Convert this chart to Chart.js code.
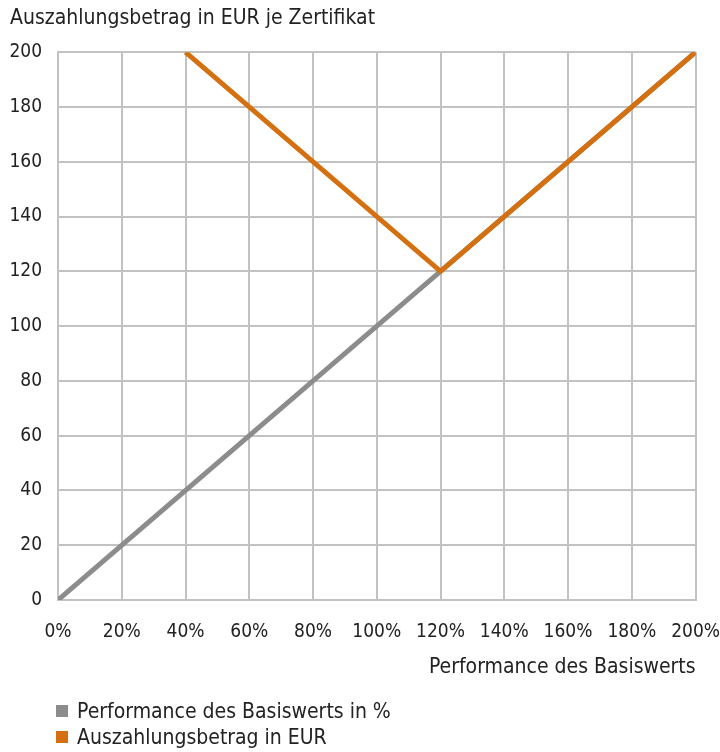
<!DOCTYPE html>
<html>
<head>
<meta charset="utf-8">
<script src="https://cdn.jsdelivr.net/npm/chart.js@4"></script>
<style>
  html,body{margin:0;padding:0;background:#fff;}
  #wrap{position:relative;width:720px;height:752px;}
  #legend{position:absolute;left:56px;top:698px;font-family:"Liberation Sans Narrow","DejaVu Sans Condensed",sans-serif;font-size:21px;color:#222;line-height:26px;}
  #legend .sw{display:inline-block;width:12px;height:12px;margin-right:9px;vertical-align:1px;}
</style>
</head>
<body>
<div id="wrap">
  <canvas id="c" width="720" height="752"></canvas>
  <div id="legend"></div>
</div>
<script>
const FONT = '"Liberation Sans Narrow","DejaVu Sans Condensed",sans-serif';
const TEXT = '#222';

// Performance des Basiswerts (x in %) vs payout (EUR)
const perfX = [0, 200];
const perfY = [0, 200];
const payX = [40, 120, 200];
const payY = [200, 120, 200];

const seriesNames = ['Performance des Basiswerts in %', 'Auszahlungsbetrag in EUR'];
const seriesColors = ['#8c8c8c', '#d4700f'];

const chartTitle = 'Auszahlungsbetrag in EUR je Zertifikat';
const xTitle = 'Performance des Basiswerts';

const toPts = (xs, ys) => xs.map((x, i) => ({x, y: ys[i]}));

const ctx = document.getElementById('c').getContext('2d');
new Chart(ctx, {
  type: 'scatter',
  data: {
    datasets: [
      {label: seriesNames[1], data: toPts(payX, payY), showLine: true, borderColor: seriesColors[1], borderWidth: 5, pointRadius: 0, order: 0, borderJoinStyle: 'miter'},
      {label: seriesNames[0], data: toPts(perfX, perfY), showLine: true, borderColor: seriesColors[0], borderWidth: 5, pointRadius: 0, order: 1}
    ]
  },
  options: {
    responsive: false,
    animation: false,
    layout: {padding: {left: 10, right: 0, top: 0, bottom: 72}},
    plugins: {
      legend: {display: false},
      tooltip: {enabled: false},
      title: {
        display: true, text: chartTitle, align: 'start', color: TEXT,
        font: {family: FONT, size: 21, weight: 'normal'},
        padding: {top: 6, bottom: 21}
      }
    },
    scales: {
      x: {
        type: 'linear', min: 0, max: 200,
        grid: {color: '#c2c2c2', lineWidth: 2, drawTicks: true, tickLength: 21, tickColor: 'rgba(0,0,0,0)'},
        border: {color: '#c2c2c2', width: 2},
        ticks: {stepSize: 20, color: TEXT, padding: 0, maxRotation: 0, font: {family: FONT, size: 19}, callback: v => v + '%'},
        title: {display: true, text: xTitle, align: 'end', color: TEXT, font: {family: FONT, size: 21}, padding: {top: 8, bottom: 0}},
        afterFit: s => { s.height = 80; }
      },
      y: {
        type: 'linear', min: 0, max: 200,
        grid: {color: '#c2c2c2', lineWidth: 2, drawTicks: false},
        border: {color: '#c2c2c2', width: 2},
        ticks: {stepSize: 20, color: TEXT, padding: 16, font: {family: FONT, size: 19}},
        afterFit: s => { s.width = 48; }
      }
    }
  }
});

document.getElementById('legend').innerHTML = seriesNames.map((n, i) =>
  `<div><span class="sw" style="background:${seriesColors[i]}"></span>${n}</div>`).join('');
</script>
</body>
</html>
